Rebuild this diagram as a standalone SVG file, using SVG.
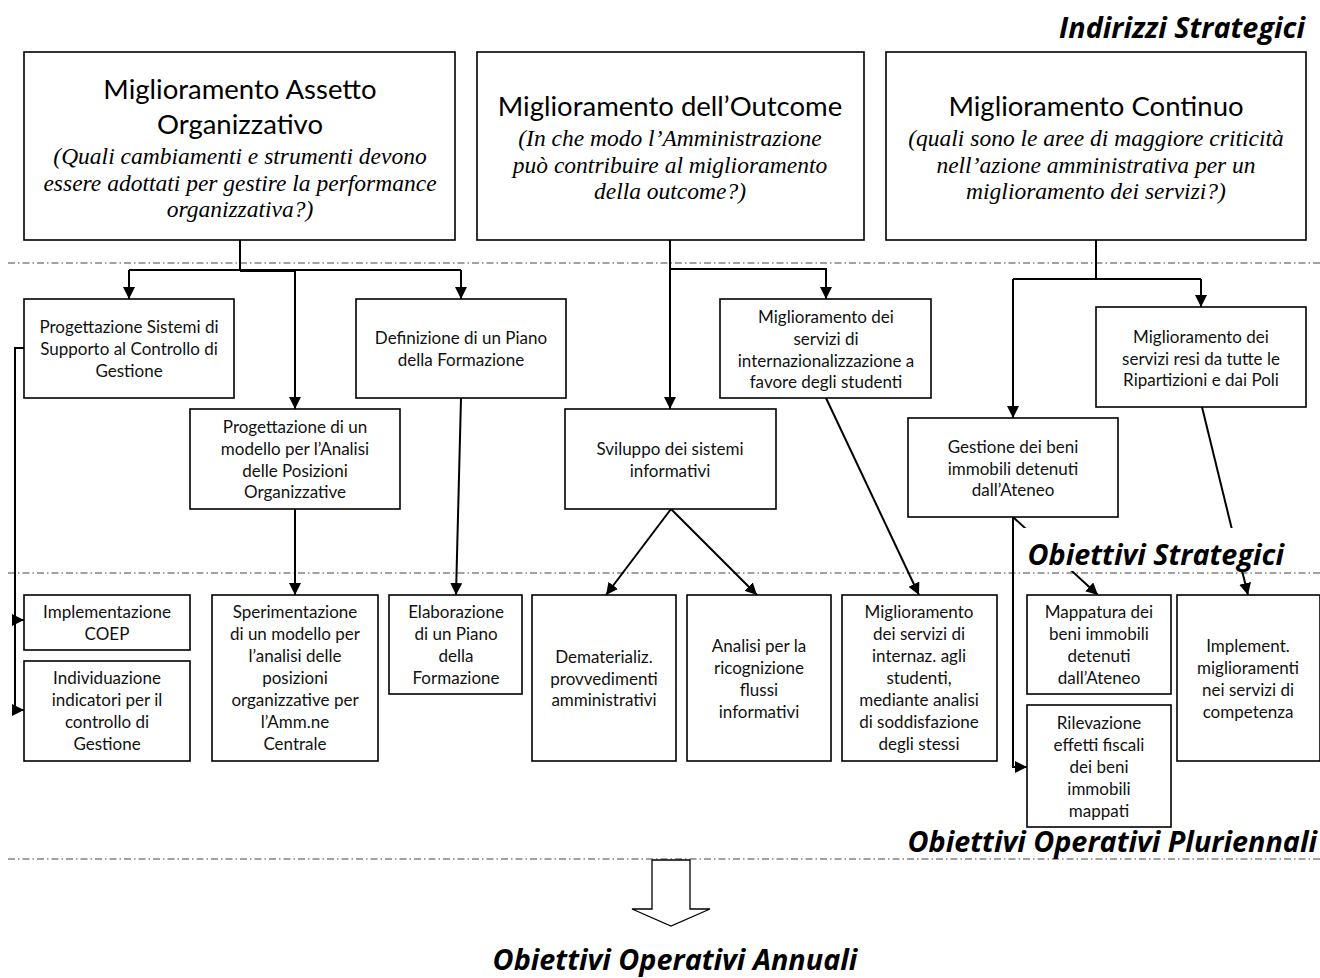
<svg xmlns="http://www.w3.org/2000/svg" width="1320" height="978" viewBox="0 0 1320 978">
<style>
.box{fill:#fff;stroke:#000;stroke-width:1.6}
.t{font-family:Lato,"Liberation Sans",sans-serif;font-size:17px;fill:#111;text-anchor:middle}
.big{font-family:Lato,"Liberation Sans",sans-serif;font-size:27.5px;fill:#000;text-anchor:middle}
.it{font-family:"Liberation Serif",serif;font-style:italic;font-size:23.5px;fill:#000;text-anchor:middle}
.lbl{font-family:"Open Sans","Liberation Sans",sans-serif;font-style:italic;font-weight:bold;fill:#000;font-size:28.8px}
.dash{stroke:#444;stroke-width:1.2;stroke-dasharray:7 3 1.5 3;fill:none}
.c{stroke:#000;stroke-width:2;fill:none}
.ca{stroke:#000;stroke-width:2;fill:none;marker-end:url(#ah)}
</style>
<defs>
<marker id="ah" markerUnits="userSpaceOnUse" markerWidth="12" markerHeight="12" viewBox="0 0 10 10" refX="10" refY="5" orient="auto">
<path d="M0,0 L10,5 L0,10 z" fill="#000"/>
</marker>
</defs>
<rect width="1320" height="978" fill="#fff"/>

<g id="separators">
<line class="dash" x1="8" y1="263" x2="1320" y2="263"/>
<line class="dash" x1="8" y1="573" x2="1320" y2="573"/>
<line class="dash" x1="8" y1="859" x2="1320" y2="859"/>
</g>

<g id="connectors">
<path class="c" d="M240,240 V270 M129,270 H461 M240,271 H295"/>
<path class="ca" d="M129,270 V299"/>
<path class="ca" d="M295,270 V409"/>
<path class="ca" d="M461,270 V299"/>
<path class="ca" d="M670,240 V409"/>
<path class="ca" d="M670,269 H826 V299"/>
<path class="c" d="M1096,240 V279 M1013,279 H1201"/>
<path class="ca" d="M1201,279 V307"/>
<path class="ca" d="M1013,279 V418"/>
<path class="ca" d="M24,348 H15 V620 H24"/>
<path class="ca" d="M15,620 V710 H24"/>
<path class="ca" d="M295,509 V595"/>
<path class="ca" d="M461,398 L456,595"/>
<path class="ca" d="M671,509 L606,595"/>
<path class="ca" d="M671,509 L757,595"/>
<path class="ca" d="M826,398 L919,595"/>
<path class="ca" d="M1013,517 V767 H1027"/>
<path class="ca" d="M1013,517 L1098,595"/>
<path class="ca" d="M1202,407 L1248,595"/>
</g>

<g id="top1">
<rect class="box" x="24" y="52" width="431" height="188"/>
<text class="big" x="240" y="99">Miglioramento Assetto</text>
<text class="big" x="240" y="134">Organizzativo</text>
<text class="it" x="240" y="164">(Quali cambiamenti e strumenti devono</text>
<text class="it" x="240" y="191">essere adottati per gestire la performance</text>
<text class="it" x="240" y="217">organizzativa?)</text>
</g>
<g id="top2">
<rect class="box" x="477" y="52" width="387" height="188"/>
<text class="big" x="670" y="116">Miglioramento dell’Outcome</text>
<text class="it" x="670" y="146">(In che modo l’Amministrazione</text>
<text class="it" x="670" y="173">può contribuire al miglioramento</text>
<text class="it" x="670" y="199">della outcome?)</text>
</g>
<g id="top3">
<rect class="box" x="886" y="52" width="420" height="188"/>
<text class="big" x="1096" y="116">Miglioramento Continuo</text>
<text class="it" x="1096" y="146">(quali sono le aree di maggiore criticità</text>
<text class="it" x="1096" y="173">nell’azione amministrativa per un</text>
<text class="it" x="1096" y="199">miglioramento dei servizi?)</text>
</g>

<g id="s1">
<rect class="box" x="24" y="299" width="210" height="99"/>
<text class="t" x="129" y="333">Progettazione Sistemi di</text>
<text class="t" x="129" y="355">Supporto al Controllo di</text>
<text class="t" x="129" y="377">Gestione</text>
</g>
<g id="s2">
<rect class="box" x="190" y="409" width="210" height="100"/>
<text class="t" x="295" y="433">Progettazione di un</text>
<text class="t" x="295" y="455">modello per l’Analisi</text>
<text class="t" x="295" y="477">delle Posizioni</text>
<text class="t" x="295" y="498">Organizzative</text>
</g>
<g id="s3">
<rect class="box" x="356" y="299" width="210" height="99"/>
<text class="t" x="461" y="344">Definizione di un Piano</text>
<text class="t" x="461" y="366">della Formazione</text>
</g>
<g id="s4">
<rect class="box" x="565" y="409" width="211" height="100"/>
<text class="t" x="670" y="455">Sviluppo dei sistemi</text>
<text class="t" x="670" y="477">informativi</text>
</g>
<g id="s5">
<rect class="box" x="720" y="299" width="211" height="99"/>
<text class="t" x="826" y="323">Miglioramento dei</text>
<text class="t" x="826" y="345">servizi di</text>
<text class="t" x="826" y="367">internazionalizzazione a</text>
<text class="t" x="826" y="388">favore degli studenti</text>
</g>
<g id="s6">
<rect class="box" x="1096" y="307" width="210" height="100"/>
<text class="t" x="1201" y="343">Miglioramento dei</text>
<text class="t" x="1201" y="365">servizi resi da tutte le</text>
<text class="t" x="1201" y="386">Ripartizioni e dai Poli</text>
</g>
<g id="s7">
<rect class="box" x="908" y="418" width="210" height="99"/>
<text class="t" x="1013" y="453">Gestione dei beni</text>
<text class="t" x="1013" y="475">immobili detenuti</text>
<text class="t" x="1013" y="496">dall’Ateneo</text>
</g>

<g id="o1">
<rect class="box" x="24" y="595" width="166" height="55"/>
<text class="t" x="107" y="618">Implementazione</text>
<text class="t" x="107" y="640">COEP</text>
</g>
<g id="o2">
<rect class="box" x="24" y="661" width="166" height="100"/>
<text class="t" x="107" y="684">Individuazione</text>
<text class="t" x="107" y="706">indicatori per il</text>
<text class="t" x="107" y="728">controllo di</text>
<text class="t" x="107" y="750">Gestione</text>
</g>
<g id="o3">
<rect class="box" x="212" y="595" width="166" height="166"/>
<text class="t" x="295" y="618">Sperimentazione</text>
<text class="t" x="295" y="640">di un modello per</text>
<text class="t" x="295" y="662">l’analisi delle</text>
<text class="t" x="295" y="684">posizioni</text>
<text class="t" x="295" y="706">organizzative per</text>
<text class="t" x="295" y="728">l’Amm.ne</text>
<text class="t" x="295" y="750">Centrale</text>
</g>
<g id="o4">
<rect class="box" x="389" y="595" width="133" height="99"/>
<text class="t" x="456" y="618">Elaborazione</text>
<text class="t" x="456" y="640">di un Piano</text>
<text class="t" x="456" y="662">della</text>
<text class="t" x="456" y="684">Formazione</text>
</g>
<g id="o5">
<rect class="box" x="532" y="595" width="144" height="166"/>
<text class="t" x="604" y="663">Dematerializ.</text>
<text class="t" x="604" y="685">provvedimenti</text>
<text class="t" x="604" y="706">amministrativi</text>
</g>
<g id="o6">
<rect class="box" x="687" y="595" width="144" height="166"/>
<text class="t" x="759" y="652">Analisi per la</text>
<text class="t" x="759" y="674">ricognizione</text>
<text class="t" x="759" y="696">flussi</text>
<text class="t" x="759" y="718">informativi</text>
</g>
<g id="o7">
<rect class="box" x="842" y="595" width="155" height="166"/>
<text class="t" x="919" y="618">Miglioramento</text>
<text class="t" x="919" y="640">dei servizi di</text>
<text class="t" x="919" y="662">internaz. agli</text>
<text class="t" x="919" y="684">studenti,</text>
<text class="t" x="919" y="706">mediante analisi</text>
<text class="t" x="919" y="728">di soddisfazione</text>
<text class="t" x="919" y="750">degli stessi</text>
</g>
<g id="o8">
<rect class="box" x="1027" y="595" width="144" height="99"/>
<text class="t" x="1099" y="618">Mappatura dei</text>
<text class="t" x="1099" y="640">beni immobili</text>
<text class="t" x="1099" y="662">detenuti</text>
<text class="t" x="1099" y="684">dall’Ateneo</text>
</g>
<g id="o9">
<rect class="box" x="1027" y="705" width="144" height="122"/>
<text class="t" x="1099" y="729">Rilevazione</text>
<text class="t" x="1099" y="751">effetti fiscali</text>
<text class="t" x="1099" y="773">dei beni</text>
<text class="t" x="1099" y="795">immobili</text>
<text class="t" x="1099" y="817">mappati</text>
</g>
<g id="o10">
<rect class="box" x="1177" y="595" width="143" height="166"/>
<text class="t" x="1248" y="652">Implement.</text>
<text class="t" x="1248" y="674">miglioramenti</text>
<text class="t" x="1248" y="696">nei servizi di</text>
<text class="t" x="1248" y="718">competenza</text>
</g>

<g id="labels">
<text class="lbl" x="1305" y="38" text-anchor="end">Indirizzi Strategici</text>
<rect x="1022" y="528" width="270" height="43" fill="#fff"/>
<text class="lbl" x="1284" y="565" text-anchor="end">Obiettivi Strategici</text>
<text class="lbl" x="1317" y="852" text-anchor="end">Obiettivi Operativi Pluriennali</text>
<text class="lbl" x="675" y="970" text-anchor="middle">Obiettivi Operativi Annuali</text>
</g>

<g id="blockarrow">
<path d="M652,860 H690 V909 H710 L671,926 L632,909 H652 Z" fill="#fff" stroke="#000" stroke-width="1.3"/>
</g>
</svg>
